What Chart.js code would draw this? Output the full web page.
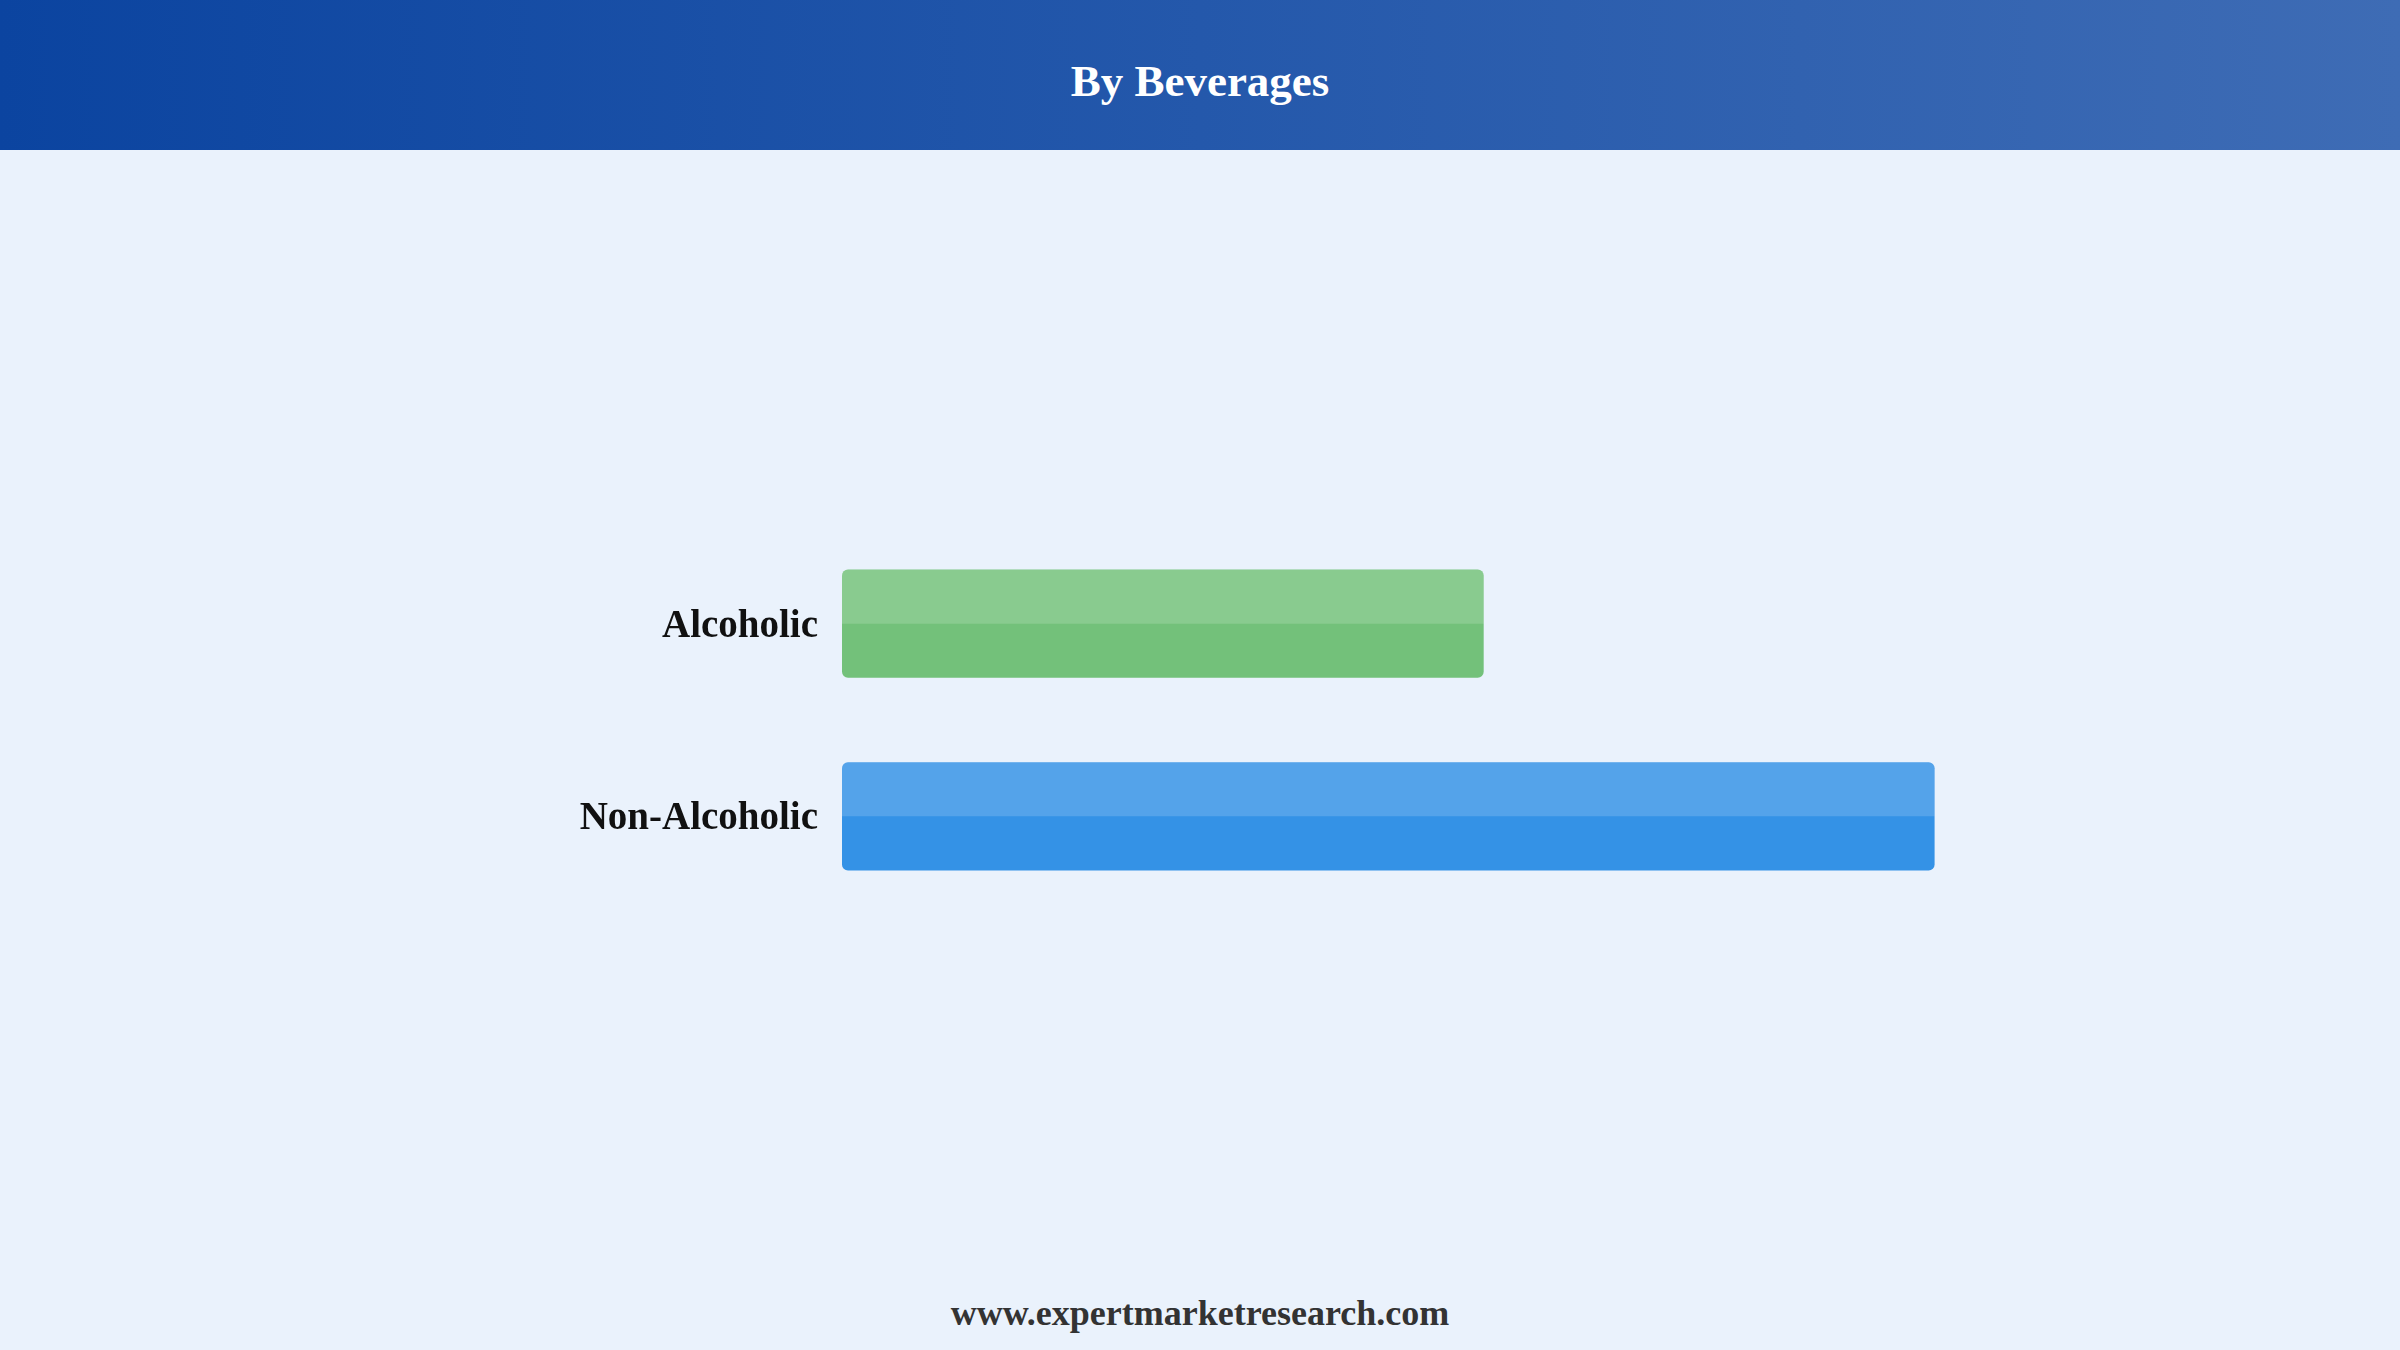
<!DOCTYPE html>
<html>
<head>
<meta charset="utf-8">
<script src="https://cdn.jsdelivr.net/npm/chart.js@4/dist/chart.umd.min.js"></script>
<style>
  html, body { margin: 0; padding: 0; }
  body {
    width: 2400px; height: 1350px; overflow: hidden; position: relative;
    background: #eaf2fc;
    font-family: "Liberation Serif", "DejaVu Serif", serif;
  }
  .header {
    position: absolute; left: 0; top: 0; width: 2400px; height: 150px;
    box-sizing: border-box; padding-top: 12px;
    background: linear-gradient(90deg, #0b44a0 0%, #2458ab 50%, #3e6cb5 100%);
    color: #fff; font-weight: bold; font-size: 45px;
    display: flex; align-items: center; justify-content: center;
  }
  .chart-box { position: absolute; left: 0; top: 480px; width: 2400px; height: 480px; }
  .footer {
    position: absolute; left: 0; top: 1290px; width: 2400px; text-align: center;
    color: #333; font-weight: bold; font-size: 36px; line-height: 46px;
  }
</style>
</head>
<body>
<div class="header">By Beverages</div>
<div class="chart-box"><canvas id="barChart"></canvas></div>
<div class="footer">www.expertmarketresearch.com</div>

<script>
// categories and values (share, %)
const categories = ['Alcoholic', 'Non-Alcoholic'];
const shares = [37, 63];
const barColors = ['#73c17a', '#3492e6'];

// light band over the top half of each bar
const topShine = {
  id: 'topShine',
  afterDatasetsDraw(chart) {
    const ctx = chart.ctx;
    chart.getDatasetMeta(0).data.forEach(bar => {
      const left = Math.min(bar.base, bar.x);
      const w = Math.abs(bar.x - bar.base);
      const top = bar.y - bar.height / 2;
      ctx.save();
      ctx.fillStyle = 'rgba(255, 255, 255, 0.16)';
      ctx.beginPath();
      ctx.roundRect(left, top, w, bar.height / 2, [6, 6, 0, 0]);
      ctx.fill();
      ctx.restore();
    });
  }
};

const ctx = document.getElementById('barChart').getContext('2d');
new Chart(ctx, {
  type: 'bar',
  data: {
    labels: categories,
    datasets: [{
      data: shares,
      backgroundColor: barColors,
      borderRadius: 6,
      borderSkipped: false,
      categoryPercentage: 1,
      barPercentage: 0.5625
    }]
  },
  options: {
    indexAxis: 'y',
    responsive: true,
    maintainAspectRatio: false,
    animation: false,
    layout: { padding: { left: 0, right: 344, top: 0, bottom: 0 } },
    plugins: {
      legend: { display: false },
      tooltip: { enabled: false }
    },
    scales: {
      x: { display: false, min: 0, max: 70 },
      y: {
        grid: { display: false, drawTicks: false },
        border: { display: false },
        ticks: {
          color: '#111',
          padding: 24,
          labelOffset: 3,
          font: { family: '"Liberation Serif", serif', size: 39, weight: 'bold' }
        },
        afterFit(scale) { scale.width = 842; }
      }
    }
  },
  plugins: [topShine]
});
</script>
</body>
</html>
